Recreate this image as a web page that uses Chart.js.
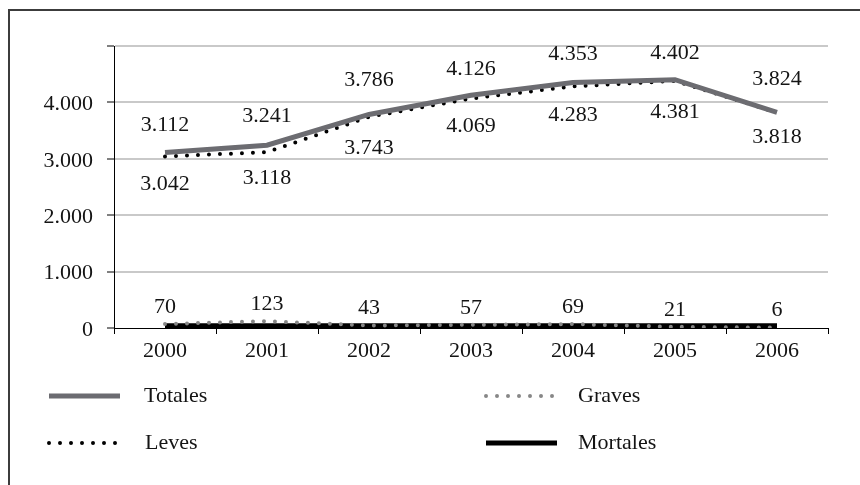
<!DOCTYPE html>
<html>
<head>
<meta charset="utf-8">
<script src="https://cdn.jsdelivr.net/npm/chart.js@4.4.1/dist/chart.umd.min.js"></script>
<style>
  html, body { margin: 0; padding: 0; background: #fff; overflow: hidden; }
  #wrap { position: relative; width: 860px; height: 485px; overflow: hidden; }
  #frame { position: absolute; left: 8px; top: 9px; width: 900px; height: 600px;
           border-left: 2px solid #3c3c3c; border-top: 2px solid #3c3c3c; }
  canvas { position: absolute; left: 0; top: 0; }
</style>
</head>
<body>
<div id="wrap">
  <div id="frame"></div>
  <canvas id="chart" width="860" height="485"></canvas>
</div>
<script>
// Accidentes por año
const years = ['2000', '2001', '2002', '2003', '2004', '2005', '2006'];
const totales = [3112, 3241, 3786, 4126, 4353, 4402, 3824];
const leves = [3042, 3118, 3743, 4069, 4283, 4381, 3818];
const graves = [70, 123, 43, 57, 69, 21, 6];
const mortales = [40, 40, 40, 40, 40, 40, 40];
const yTicks = [0, 1000, 2000, 3000, 4000, 5000];

const FONT = { family: "'Liberation Serif', 'Times New Roman', serif", size: 22 };
const INK = '#141414';

function fmt(v) {
  return String(v).replace(/\B(?=(\d{3})+(?!\d))/g, '.');
}

// value labels: vertical shift from each point (negative = above)
const labelPlacement = {
  Totales: { dy: [-27, -29, -34, -26, -28, -27, -33] },
  Leves: { dy: [28, 26, 31, 28, 29, 31, 25] },
  Graves: { dy: [-17, -17, -17, -17, -17, -17, -17] }
};

const valueLabels = {
  id: 'valueLabels',
  afterDatasetsDraw(chart) {
    const ctx = chart.ctx;
    ctx.save();
    ctx.font = `${FONT.size}px ${FONT.family}`;
    ctx.fillStyle = INK;
    ctx.textAlign = 'center';
    ctx.textBaseline = 'middle';
    chart.data.datasets.forEach((ds, i) => {
      const place = labelPlacement[ds.label];
      if (!place) return;
      const meta = chart.getDatasetMeta(i);
      meta.data.forEach((pt, j) => {
        ctx.fillText(fmt(ds.data[j]), pt.x, pt.y + place.dy[j]);
      });
    });
    ctx.restore();
  }
};

// two-column legend below the axis
const gridLegend = {
  id: 'gridLegend',
  afterDraw(chart) {
    const ctx = chart.ctx;
    const cells = [
      { label: 'Totales', x: 49, y: 396, tx: 144 },
      { label: 'Graves', x: 486, y: 396, tx: 578 },
      { label: 'Leves', x: 49, y: 443, tx: 145 },
      { label: 'Mortales', x: 486, y: 443, tx: 578 }
    ];
    ctx.save();
    cells.forEach(c => {
      const ds = chart.data.datasets.find(d => d.label === c.label);
      ctx.beginPath();
      ctx.strokeStyle = ds.borderColor;
      ctx.lineWidth = ds.borderWidth;
      ctx.lineCap = ds.borderCapStyle || 'butt';
      ctx.setLineDash(ds.borderDash || []);
      ctx.moveTo(c.x, c.y);
      ctx.lineTo(c.x + 71, c.y);
      ctx.stroke();
      ctx.setLineDash([]);
      ctx.font = `${FONT.size}px ${FONT.family}`;
      ctx.fillStyle = INK;
      ctx.textAlign = 'left';
      ctx.textBaseline = 'middle';
      ctx.fillText(c.label, c.tx, c.y);
    });
    ctx.restore();
  }
};

new Chart(document.getElementById('chart'), {
  type: 'line',
  data: {
    labels: years,
    datasets: [
      { label: 'Totales', data: totales, borderColor: '#6c6c71', borderWidth: 5,
        borderCapStyle: 'butt', pointRadius: 0, tension: 0 },
      { label: 'Leves', data: leves, borderColor: '#000000', borderWidth: 4,
        borderDash: [0, 11], borderCapStyle: 'round', pointRadius: 0, tension: 0 },
      { label: 'Graves', data: graves, borderColor: '#878787', borderWidth: 4,
        borderDash: [0, 11], borderCapStyle: 'round', pointRadius: 0, tension: 0 },
      { label: 'Mortales', data: mortales, borderColor: '#000000', borderWidth: 5,
        borderCapStyle: 'butt', pointRadius: 0, tension: 0 }
    ]
  },
  options: {
    responsive: false,
    animation: false,
    devicePixelRatio: 1,
    layout: { padding: { left: 0, top: 46, right: 32, bottom: 117 } },
    plugins: { legend: { display: false }, tooltip: { enabled: false } },
    scales: {
      x: {
        type: 'category',
        offset: true,
        grid: { offset: true, drawOnChartArea: false, tickLength: 6, tickColor: '#000', tickWidth: 1 },
        border: { display: true, color: '#000', width: 1 },
        ticks: { font: FONT, color: INK, padding: 4, maxRotation: 0 },
        afterFit(scale) { scale.height = 40; }
      },
      y: {
        min: 0,
        max: 5000,
        afterBuildTicks(scale) { scale.ticks = yTicks.map(v => ({ value: v })); },
        grid: {
          color: ctx => (ctx.tick && ctx.tick.value === 0 ? 'rgba(0,0,0,0)' : '#c9c9c9'),
          lineWidth: 2,
          tickLength: 7,
          tickColor: '#000',
          tickWidth: 1
        },
        border: { display: true, color: '#000', width: 1 },
        ticks: {
          font: FONT,
          color: INK,
          padding: 14,
          labelOffset: 2,
          callback: v => (v === 5000 ? '' : fmt(v))
        },
        afterFit(scale) { scale.width = 114; }
      }
    }
  },
  plugins: [valueLabels, gridLegend]
});
</script>
</body>
</html>
